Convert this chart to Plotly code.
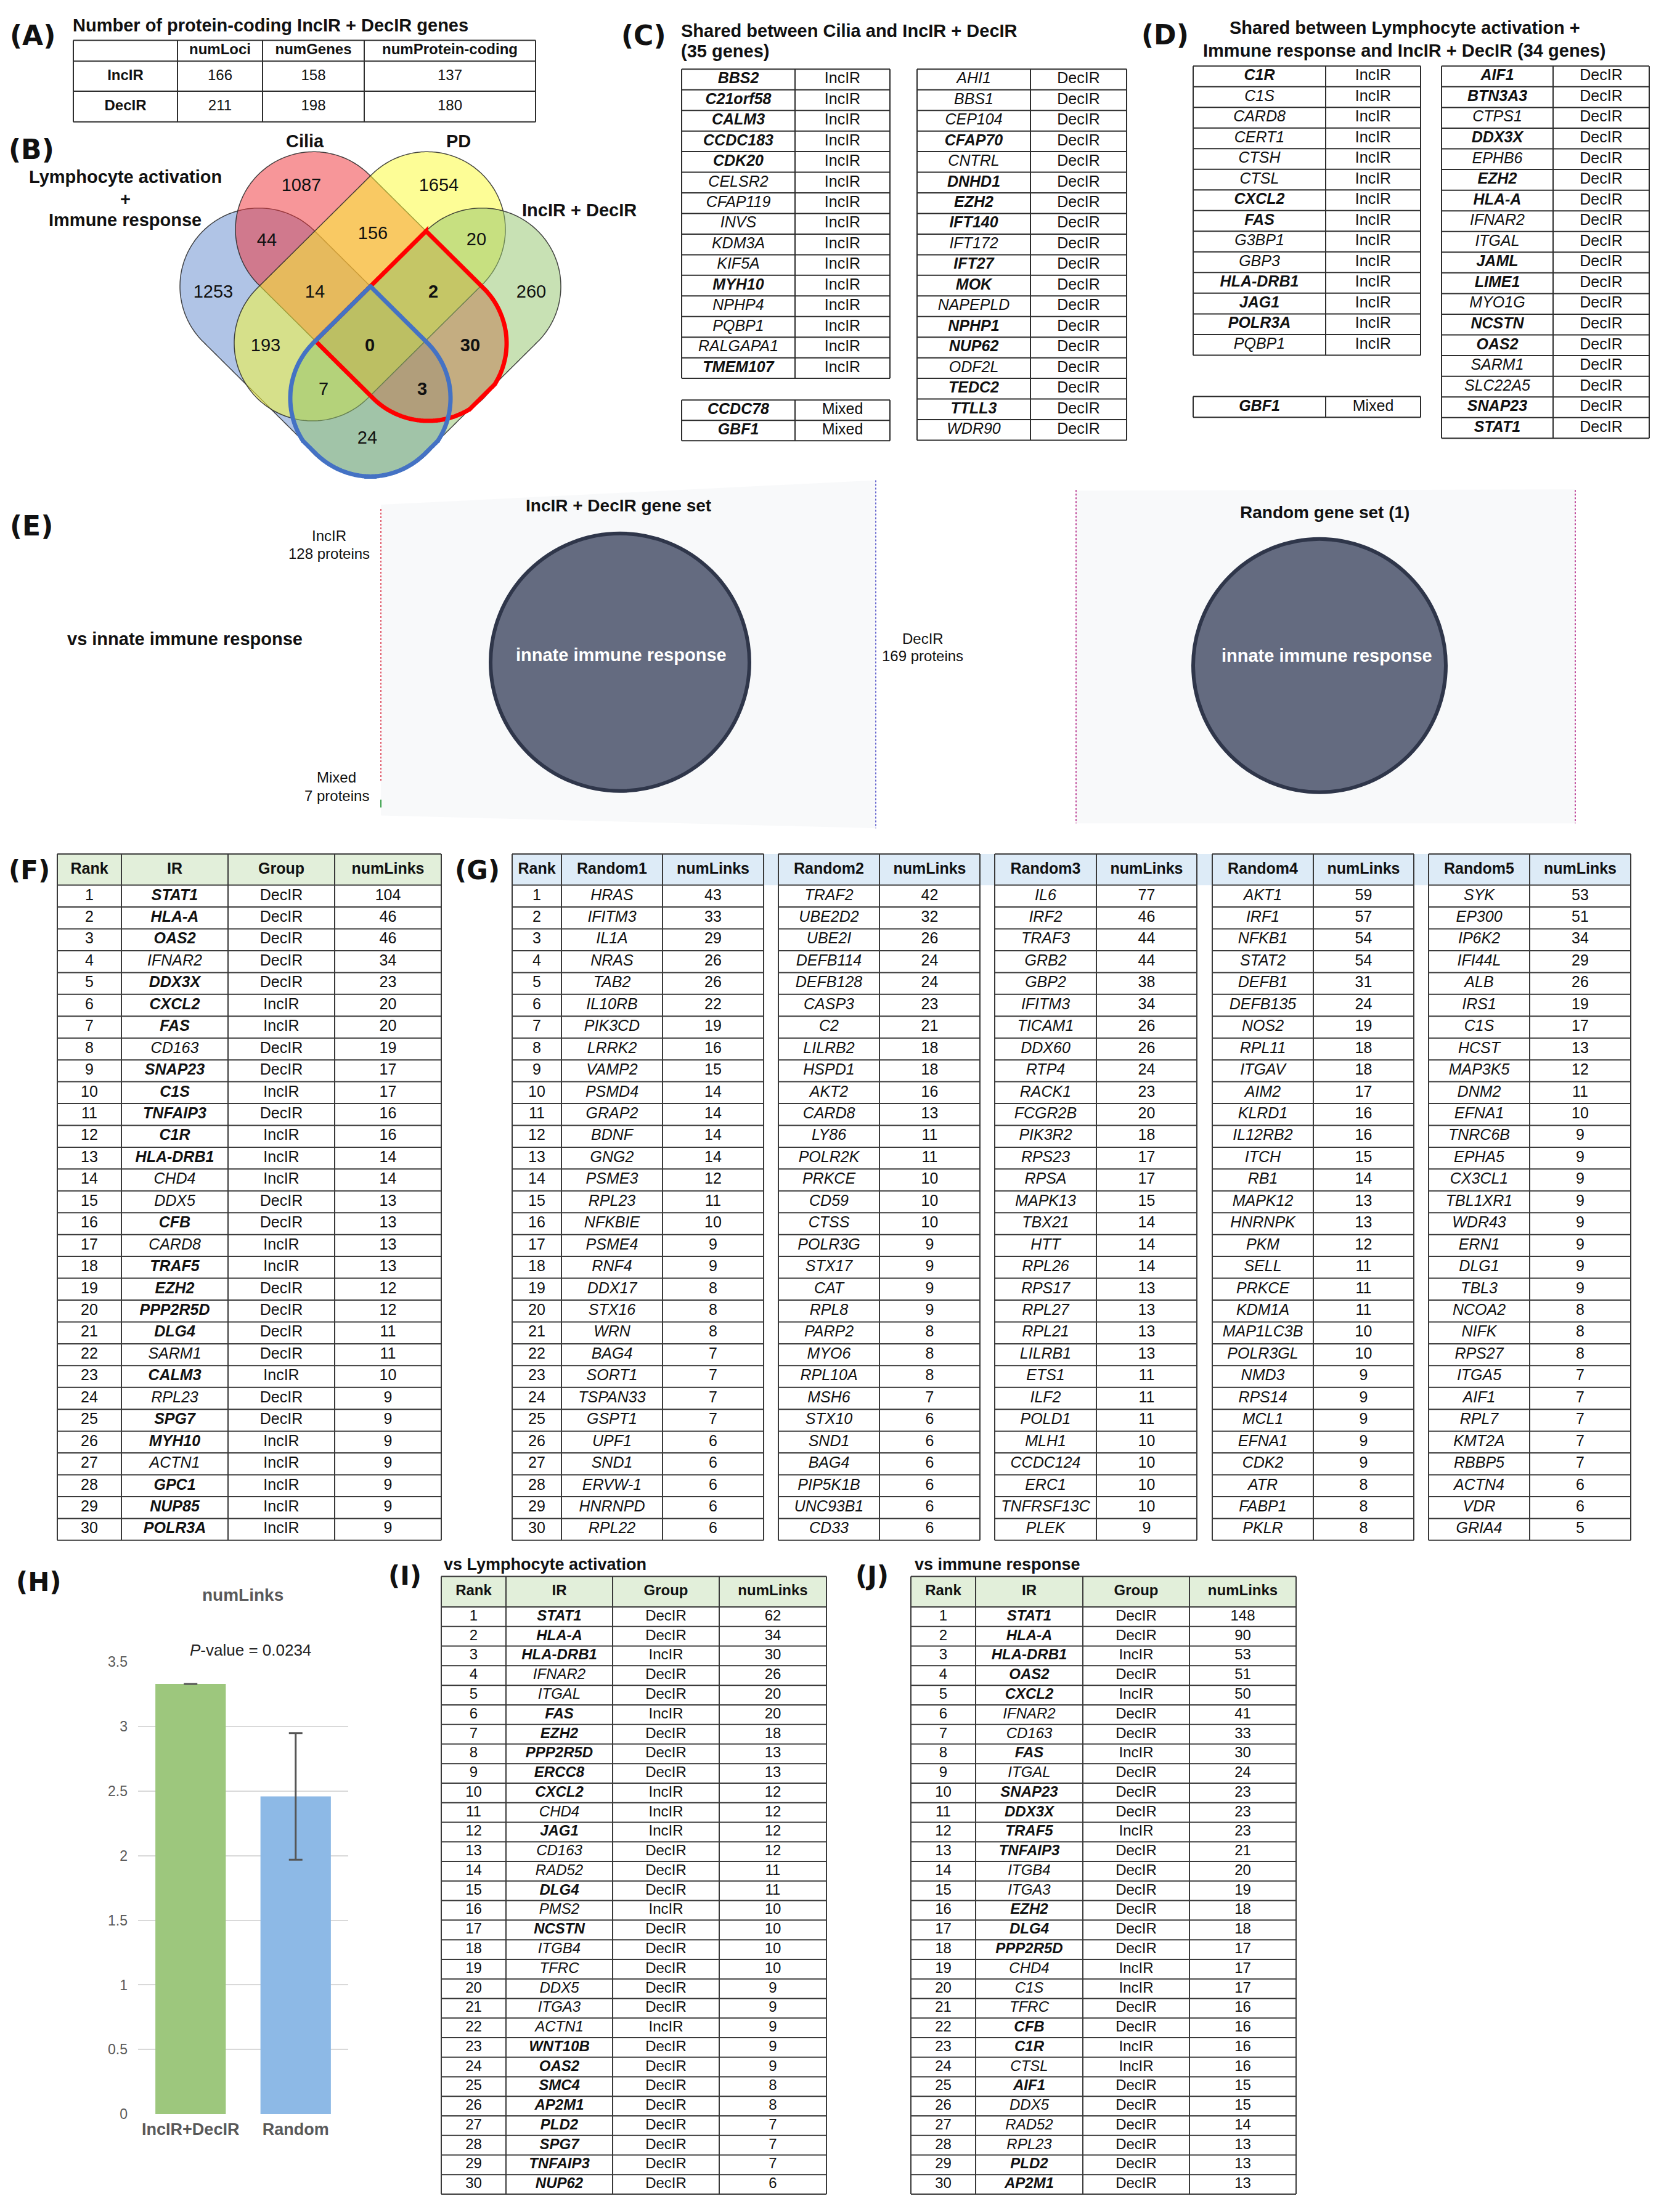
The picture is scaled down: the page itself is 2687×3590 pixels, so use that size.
import numpy as np
import plotly.graph_objects as go

W, H = 2687, 3590
FONT = "Liberation Sans, Arial, Helvetica, sans-serif"
LFONT = "DejaVu Sans, Liberation Sans, sans-serif"

# ======================= DATA =======================
# (A)
A_row_names = ["IncIR", "DecIR"]
A_col_names = ["numLoci", "numGenes", "numProtein-coding"]
A_numLoci = [166, 211]
A_numGenes = [158, 198]
A_numProteinCoding = [137, 180]

# (B) Venn
venn_set_names = ["Lymphocyte activation", "+", "Immune response", "Cilia", "PD", "IncIR + DecIR"]
venn_regions = ["C", "P", "LC", "CP", "PI", "L", "LCP", "CPI", "I", "LP", "LCPI", "CI", "LPI", "LCI", "LI"]
venn_counts = [1087, 1654, 44, 156, 20, 1253, 14, 2, 260, 193, 0, 30, 7, 3, 24]

# (C)
C_incIR = ["BBS2", "C21orf58", "CALM3", "CCDC183", "CDK20", "CELSR2", "CFAP119", "INVS", "KDM3A",
           "KIF5A", "MYH10", "NPHP4", "PQBP1", "RALGAPA1", "TMEM107"]
C_mixed = ["CCDC78", "GBF1"]
C_decIR = ["AHI1", "BBS1", "CEP104", "CFAP70", "CNTRL", "DNHD1", "EZH2", "IFT140", "IFT172", "IFT27",
           "MOK", "NAPEPLD", "NPHP1", "NUP62", "ODF2L", "TEDC2", "TTLL3", "WDR90"]
C_bold = ["BBS2", "C21orf58", "CALM3", "CCDC183", "CDK20", "MYH10", "TMEM107", "CCDC78", "GBF1",
          "CFAP70", "DNHD1", "EZH2", "IFT140", "IFT27", "MOK", "NPHP1", "NUP62", "TEDC2", "TTLL3"]

# (D)
D_incIR = ["C1R", "C1S", "CARD8", "CERT1", "CTSH", "CTSL", "CXCL2", "FAS", "G3BP1", "GBP3",
           "HLA-DRB1", "JAG1", "POLR3A", "PQBP1"]
D_mixed = ["GBF1"]
D_decIR = ["AIF1", "BTN3A3", "CTPS1", "DDX3X", "EPHB6", "EZH2", "HLA-A", "IFNAR2", "ITGAL", "JAML",
           "LIME1", "MYO1G", "NCSTN", "OAS2", "SARM1", "SLC22A5", "SNAP23", "STAT1"]
D_bold = ["C1R", "CXCL2", "FAS", "HLA-DRB1", "JAG1", "POLR3A", "GBF1", "AIF1", "BTN3A3", "DDX3X",
          "EZH2", "HLA-A", "JAML", "LIME1", "NCSTN", "OAS2", "SNAP23", "STAT1"]

# (E)
E_titles = ["IncIR + DecIR gene set", "Random gene set (1)"]
E_term = "innate immune response"
E_groups = ["IncIR", "DecIR", "Mixed"]
E_proteins = [128, 169, 7]

# (F)
F_IR = ["STAT1", "HLA-A", "OAS2", "IFNAR2", "DDX3X", "CXCL2", "FAS", "CD163", "SNAP23", "C1S",
        "TNFAIP3", "C1R", "HLA-DRB1", "CHD4", "DDX5", "CFB", "CARD8", "TRAF5", "EZH2", "PPP2R5D",
        "DLG4", "SARM1", "CALM3", "RPL23", "SPG7", "MYH10", "ACTN1", "GPC1", "NUP85", "POLR3A"]
F_group = ["DecIR", "DecIR", "DecIR", "DecIR", "DecIR", "IncIR", "IncIR", "DecIR", "DecIR", "IncIR",
           "DecIR", "IncIR", "IncIR", "IncIR", "DecIR", "DecIR", "IncIR", "IncIR", "DecIR", "DecIR",
           "DecIR", "DecIR", "IncIR", "DecIR", "DecIR", "IncIR", "IncIR", "IncIR", "IncIR", "IncIR"]
F_links = [104, 46, 46, 34, 23, 20, 20, 19, 17, 17, 16, 16, 14, 14, 13, 13, 13, 13, 12, 12,
           11, 11, 10, 9, 9, 9, 9, 9, 9, 9]
F_bold = ["STAT1", "HLA-A", "OAS2", "DDX3X", "CXCL2", "FAS", "SNAP23", "C1S", "TNFAIP3", "C1R",
          "HLA-DRB1", "CFB", "TRAF5", "EZH2", "PPP2R5D", "DLG4", "CALM3", "SPG7", "MYH10", "GPC1",
          "NUP85", "POLR3A"]

# (G)
G_random1 = ["HRAS", "IFITM3", "IL1A", "NRAS", "TAB2", "IL10RB", "PIK3CD", "LRRK2", "VAMP2", "PSMD4",
             "GRAP2", "BDNF", "GNG2", "PSME3", "RPL23", "NFKBIE", "PSME4", "RNF4", "DDX17", "STX16",
             "WRN", "BAG4", "SORT1", "TSPAN33", "GSPT1", "UPF1", "SND1", "ERVW-1", "HNRNPD", "RPL22"]
G_links1 = [43, 33, 29, 26, 26, 22, 19, 16, 15, 14, 14, 14, 14, 12, 11, 10, 9, 9, 8, 8,
            8, 7, 7, 7, 7, 6, 6, 6, 6, 6]
G_random2 = ["TRAF2", "UBE2D2", "UBE2I", "DEFB114", "DEFB128", "CASP3", "C2", "LILRB2", "HSPD1", "AKT2",
             "CARD8", "LY86", "POLR2K", "PRKCE", "CD59", "CTSS", "POLR3G", "STX17", "CAT", "RPL8",
             "PARP2", "MYO6", "RPL10A", "MSH6", "STX10", "SND1", "BAG4", "PIP5K1B", "UNC93B1", "CD33"]
G_links2 = [42, 32, 26, 24, 24, 23, 21, 18, 18, 16, 13, 11, 11, 10, 10, 10, 9, 9, 9, 9,
            8, 8, 8, 7, 6, 6, 6, 6, 6, 6]
G_random3 = ["IL6", "IRF2", "TRAF3", "GRB2", "GBP2", "IFITM3", "TICAM1", "DDX60", "RTP4", "RACK1",
             "FCGR2B", "PIK3R2", "RPS23", "RPSA", "MAPK13", "TBX21", "HTT", "RPL26", "RPS17", "RPL27",
             "RPL21", "LILRB1", "ETS1", "ILF2", "POLD1", "MLH1", "CCDC124", "ERC1", "TNFRSF13C", "PLEK"]
G_links3 = [77, 46, 44, 44, 38, 34, 26, 26, 24, 23, 20, 18, 17, 17, 15, 14, 14, 14, 13, 13,
            13, 13, 11, 11, 11, 10, 10, 10, 10, 9]
G_random4 = ["AKT1", "IRF1", "NFKB1", "STAT2", "DEFB1", "DEFB135", "NOS2", "RPL11", "ITGAV", "AIM2",
             "KLRD1", "IL12RB2", "ITCH", "RB1", "MAPK12", "HNRNPK", "PKM", "SELL", "PRKCE", "KDM1A",
             "MAP1LC3B", "POLR3GL", "NMD3", "RPS14", "MCL1", "EFNA1", "CDK2", "ATR", "FABP1", "PKLR"]
G_links4 = [59, 57, 54, 54, 31, 24, 19, 18, 18, 17, 16, 16, 15, 14, 13, 13, 12, 11, 11, 11,
            10, 10, 9, 9, 9, 9, 9, 8, 8, 8]
G_random5 = ["SYK", "EP300", "IP6K2", "IFI44L", "ALB", "IRS1", "C1S", "HCST", "MAP3K5", "DNM2",
             "EFNA1", "TNRC6B", "EPHA5", "CX3CL1", "TBL1XR1", "WDR43", "ERN1", "DLG1", "TBL3", "NCOA2",
             "NIFK", "RPS27", "ITGA5", "AIF1", "RPL7", "KMT2A", "RBBP5", "ACTN4", "VDR", "GRIA4"]
G_links5 = [53, 51, 34, 29, 26, 19, 17, 13, 12, 11, 10, 9, 9, 9, 9, 9, 9, 9, 9, 8,
            8, 8, 7, 7, 7, 7, 7, 6, 6, 5]

# (H)
H_categories = ["IncIR+DecIR", "Random"]
H_numLinks = [3.33, 2.46]
H_error = [0.0, 0.49]
H_pvalue = "0.0234"

# (I)
I_IR = ["STAT1", "HLA-A", "HLA-DRB1", "IFNAR2", "ITGAL", "FAS", "EZH2", "PPP2R5D", "ERCC8", "CXCL2",
        "CHD4", "JAG1", "CD163", "RAD52", "DLG4", "PMS2", "NCSTN", "ITGB4", "TFRC", "DDX5",
        "ITGA3", "ACTN1", "WNT10B", "OAS2", "SMC4", "AP2M1", "PLD2", "SPG7", "TNFAIP3", "NUP62"]
I_group = ["DecIR", "DecIR", "IncIR", "DecIR", "DecIR", "IncIR", "DecIR", "DecIR", "DecIR", "IncIR",
           "IncIR", "IncIR", "DecIR", "DecIR", "DecIR", "IncIR", "DecIR", "DecIR", "DecIR", "DecIR",
           "DecIR", "IncIR", "DecIR", "DecIR", "DecIR", "DecIR", "DecIR", "DecIR", "DecIR", "DecIR"]
I_links = [62, 34, 30, 26, 20, 20, 18, 13, 13, 12, 12, 12, 12, 11, 11, 10, 10, 10, 10, 9,
           9, 9, 9, 9, 8, 8, 7, 7, 7, 6]
I_bold = ["STAT1", "HLA-A", "HLA-DRB1", "FAS", "EZH2", "PPP2R5D", "ERCC8", "CXCL2", "JAG1", "DLG4",
          "NCSTN", "WNT10B", "OAS2", "SMC4", "AP2M1", "PLD2", "SPG7", "TNFAIP3", "NUP62"]

# (J)
J_IR = ["STAT1", "HLA-A", "HLA-DRB1", "OAS2", "CXCL2", "IFNAR2", "CD163", "FAS", "ITGAL", "SNAP23",
        "DDX3X", "TRAF5", "TNFAIP3", "ITGB4", "ITGA3", "EZH2", "DLG4", "PPP2R5D", "CHD4", "C1S",
        "TFRC", "CFB", "C1R", "CTSL", "AIF1", "DDX5", "RAD52", "RPL23", "PLD2", "AP2M1"]
J_group = ["DecIR", "DecIR", "IncIR", "DecIR", "IncIR", "DecIR", "DecIR", "IncIR", "DecIR", "DecIR",
           "DecIR", "IncIR", "DecIR", "DecIR", "DecIR", "DecIR", "DecIR", "DecIR", "IncIR", "IncIR",
           "DecIR", "DecIR", "IncIR", "IncIR", "DecIR", "DecIR", "DecIR", "DecIR", "DecIR", "DecIR"]
J_links = [148, 90, 53, 51, 50, 41, 33, 30, 24, 23, 23, 23, 21, 20, 19, 18, 18, 17, 17, 17,
           16, 16, 16, 16, 15, 15, 14, 13, 13, 13]
J_bold = ["STAT1", "HLA-A", "HLA-DRB1", "OAS2", "CXCL2", "FAS", "SNAP23", "DDX3X", "TRAF5", "TNFAIP3",
          "EZH2", "DLG4", "PPP2R5D", "CFB", "C1R", "AIF1", "PLD2", "AP2M1"]

# ======================= LAYOUT HELPERS =======================
fig = go.Figure()
shapes = []
annotations = []


def T(x, y, text, size, color="#111111", family=FONT, xanchor="center", yanchor="middle"):
    annotations.append(dict(x=x, y=y, xref="x", yref="y", text=text, showarrow=False,
                            font=dict(family=family, size=size, color=color),
                            xanchor=xanchor, yanchor=yanchor,
                            align="center" if xanchor == "center" else xanchor))


def gene(g, bold_list):
    return f"<b><i>{g}</i></b>" if g in bold_list else f"<i>{g}</i>"


def bold(t):
    return f"<b>{t}</b>"


def draw_table(xs, y_top, heights, cells, size, header_fill=None, n_header=0,
               line_color="#2e2e2e", line_w=2):
    ys = [y_top]
    for h in heights:
        ys.append(ys[-1] + h)
    if header_fill:
        for r in range(n_header):
            shapes.append(dict(type="rect", xref="x", yref="y", x0=xs[0], x1=xs[-1],
                               y0=ys[r], y1=ys[r + 1], fillcolor=header_fill,
                               line=dict(width=0), layer="below"))
    lx, ly = [], []
    for y in ys:
        lx += [xs[0], xs[-1], None]
        ly += [y, y, None]
    for x in xs:
        lx += [x, x, None]
        ly += [ys[0], ys[-1], None]
    fig.add_trace(go.Scatter(x=lx, y=ly, mode="lines", line=dict(color=line_color, width=line_w),
                             hoverinfo="skip", showlegend=False, xaxis="x", yaxis="y"))
    tx, ty, tt = [], [], []
    for r, row in enumerate(cells):
        for c, txt in enumerate(row):
            if txt is None:
                continue
            tx.append((xs[c] + xs[c + 1]) / 2)
            ty.append((ys[r] + ys[r + 1]) / 2)
            tt.append(txt)
    fig.add_trace(go.Scatter(x=tx, y=ty, text=tt, mode="text", textposition="middle center",
                             textfont=dict(family=FONT, size=size, color="#111111"),
                             hoverinfo="skip", showlegend=False, cliponaxis=False,
                             xaxis="x", yaxis="y"))


# ======================= PANEL LABELS =======================
for lab, x, y, fam, sz in [("(A)", 14, 45, LFONT, 44), ("(B)", 12, 231, LFONT, 44),
                           ("(C)", 1006, 45, LFONT, 44), ("(D)", 1850, 44, LFONT, 44),
                           ("(E)", 14, 847, LFONT, 44), ("(F)", 12, 1410, LFONT, 42),
                           ("(G)", 736, 1410, LFONT, 42), ("(H)", 24, 2573, LFONT, 42),
                           ("(I)", 628, 2563, LFONT, 42), ("(J)", 1386, 2563, LFONT, 42)]:
    T(x, y, bold(lab), sz, family=fam, xanchor="left")

# ======================= (A) =======================
T(116, 28, bold("Number of protein-coding IncIR + DecIR genes"), 29, xanchor="left")
A_cells = [[None] + [bold(c) for c in A_col_names]]
for i, r in enumerate(A_row_names):
    A_cells.append([bold(r), str(A_numLoci[i]), str(A_numGenes[i]), str(A_numProteinCoding[i])])
draw_table([119, 288, 426, 591, 869], 53, [34, 49, 50], A_cells, 24)

# ======================= (B) Venn =======================
VX0 = 601
caps = {
    "L": ((VX0 - 181, 455), (VX0 + 2, 638), 128, "rgba(97,137,205,0.5)"),
    "C": ((VX0 - 92, 362), (VX0 + 94, 548), 127, "rgba(239,45,52,0.5)"),
    "P": ((VX0 + 92, 362), (VX0 - 94, 548), 127, "rgba(252,252,45,0.5)"),
    "I": ((VX0 + 181, 455), (VX0 - 2, 638), 128, "rgba(145,195,105,0.5)"),
}


def capsule_pts(p1, p2, r, n=120):
    p1 = np.array(p1, float)
    p2 = np.array(p2, float)
    d = p2 - p1
    ang = np.arctan2(d[1], d[0])
    t2 = np.linspace(ang - np.pi / 2, ang + np.pi / 2, n)
    t1 = np.linspace(ang + np.pi / 2, ang + 3 * np.pi / 2, n)
    a2 = p2 + r * np.c_[np.cos(t2), np.sin(t2)]
    a1 = p1 + r * np.c_[np.cos(t1), np.sin(t1)]
    side1 = np.linspace(a2[-1], a1[0], n)
    side2 = np.linspace(a1[-1], a2[0], n)
    return np.vstack([a2, side1, a1, side2])


def seg_dist(pts, p1, p2):
    p1 = np.array(p1, float)
    p2 = np.array(p2, float)
    d = p2 - p1
    t = np.clip(((pts - p1) @ d) / (d @ d), 0, 1)
    proj = p1 + t[:, None] * d
    return np.linalg.norm(pts - proj, axis=1)


def path_of(pts):
    return "M " + " L ".join(f"{x:.1f},{y:.1f}" for x, y in pts) + " Z"


def intersection(ka, kb):
    a, b = caps[ka], caps[kb]
    pa = capsule_pts(a[0], a[1], a[2], 300)
    pb = capsule_pts(b[0], b[1], b[2], 300)
    ina = pa[seg_dist(pa, b[0], b[1]) <= b[2] + 0.3]
    inb = pb[seg_dist(pb, a[0], a[1]) <= a[2] + 0.3]
    pts = np.vstack([ina, inb])
    c = pts.mean(axis=0)
    return pts[np.argsort(np.arctan2(pts[:, 1] - c[1], pts[:, 0] - c[0]))]


for k in ["L", "C", "P", "I"]:
    p1, p2, r, col = caps[k]
    shapes.append(dict(type="path", xref="x", yref="y", path=path_of(capsule_pts(p1, p2, r)),
                       fillcolor=col, line=dict(color="rgba(40,40,40,0.85)", width=1.5), layer="below"))
shapes.append(dict(type="path", xref="x", yref="y", path=path_of(intersection("C", "I")),
                   fillcolor="rgba(0,0,0,0)", line=dict(color="#ff0000", width=7), layer="below"))
shapes.append(dict(type="path", xref="x", yref="y", path=path_of(intersection("L", "I")),
                   fillcolor="rgba(0,0,0,0)", line=dict(color="#4472c4", width=7), layer="below"))

venn_count_xy = [(489, 292), (712, 292), (433, 382), (605, 370), (773, 380), (346, 466), (511, 466),
                 (703, 466), (862, 466), (431, 554), (600, 554), (763, 554), (525, 625), (685, 625),
                 (596, 705)]
vt = [bold(str(v)) if ("C" in m and "I" in m) else str(v) for v, m in zip(venn_counts, venn_regions)]
fig.add_trace(go.Scatter(x=[p[0] for p in venn_count_xy], y=[p[1] for p in venn_count_xy], text=vt,
                         mode="text", textposition="middle center",
                         textfont=dict(family=FONT, size=29, color="#111111"),
                         hoverinfo="skip", showlegend=False, cliponaxis=False, xaxis="x", yaxis="y"))
T(203, 276, bold(venn_set_names[0]), 29)
T(203, 312, bold(venn_set_names[1]), 29)
T(203, 347, bold(venn_set_names[2]), 29)
T(495, 218, bold(venn_set_names[3]), 29)
T(744, 218, bold(venn_set_names[4]), 29)
T(940, 330, bold(venn_set_names[5]), 29)

# ======================= (C) =======================
T(1103, 37, bold("Shared between Cilia and IncIR + DecIR"), 29, xanchor="left")
T(1103, 71, bold("(35 genes)"), 29, xanchor="left")
draw_table([1106, 1290, 1444], 100, [33.7] * len(C_incIR), [[gene(g, C_bold), "IncIR"] for g in C_incIR], 25)
draw_table([1106, 1290, 1444], 641, [33.2] * len(C_mixed), [[gene(g, C_bold), "Mixed"] for g in C_mixed], 25)
draw_table([1488, 1672, 1828], 100, [33.7] * len(C_decIR), [[gene(g, C_bold), "DecIR"] for g in C_decIR], 25)

# ======================= (D) =======================
T(2279, 32, bold("Shared between Lymphocyte activation +"), 29)
T(2279, 69, bold("Immune response and IncIR + DecIR (34 genes)"), 29)
draw_table([1936, 2151, 2305], 95, [33.75] * len(D_incIR), [[gene(g, D_bold), "IncIR"] for g in D_incIR], 25)
draw_table([1936, 2151, 2305], 635, [34] * len(D_mixed), [[gene(g, D_bold), "Mixed"] for g in D_mixed], 25)
draw_table([2339, 2520, 2676], 95, [33.8] * len(D_decIR), [[gene(g, D_bold), "DecIR"] for g in D_decIR], 25)

# ======================= (E) =======================
T(300, 1031, bold("vs " + E_term), 29)
# left network
shapes.append(dict(type="path", xref="x", yref="y",
                   path="M 618,812 L 1421,772 L 1421,1341 L 618,1320 Z",
                   fillcolor="rgba(70,80,110,0.035)", line=dict(width=0), layer="below"))
shapes.append(dict(type="line", xref="x", yref="y", x0=618, x1=618, y0=819, y1=1264,
                   line=dict(color="#e05a6a", width=2, dash="dot"), layer="below"))
shapes.append(dict(type="line", xref="x", yref="y", x0=618, x1=618, y0=1294, y1=1307,
                   line=dict(color="#3aa04a", width=2), layer="below"))
shapes.append(dict(type="line", xref="x", yref="y", x0=1421, x1=1421, y0=772, y1=1341,
                   line=dict(color="#6a6ad0", width=2, dash="dot"), layer="below"))
shapes.append(dict(type="circle", xref="x", yref="y", x0=796, x1=1216, y0=859, y1=1280,
                   fillcolor="#646b80", line=dict(color="#2f364a", width=6), layer="below"))
T(1003, 813, bold(E_titles[0]), 28)
T(1008, 1058, bold(E_term), 29, color="white")
T(534, 863, E_groups[0], 24)
T(534, 892, f"{E_proteins[0]} proteins", 24)
T(1497, 1031, E_groups[1], 24)
T(1497, 1059, f"{E_proteins[1]} proteins", 24)
T(546, 1258, E_groups[2], 24)
T(546, 1288, f"{E_proteins[2]} proteins", 24)
# right network
shapes.append(dict(type="path", xref="x", yref="y",
                   path="M 1746,789 L 2556,787 L 2556,1333 L 1746,1333 Z",
                   fillcolor="rgba(70,80,110,0.035)", line=dict(width=0), layer="below"))
for xx in (1746, 2556):
    shapes.append(dict(type="line", xref="x", yref="y", x0=xx, x1=xx, y0=788, y1=1333,
                       line=dict(color="#c04c9c", width=2, dash="dot"), layer="below"))
shapes.append(dict(type="circle", xref="x", yref="y", x0=1936, x1=2346, y0=868, y1=1282,
                   fillcolor="#646b80", line=dict(color="#2f364a", width=6), layer="below"))
T(2149, 824, bold(E_titles[1]), 28)
T(2153, 1059, bold(E_term), 29, color="white")

# ======================= (F) =======================
F_cells = [[bold("Rank"), bold("IR"), bold("Group"), bold("numLinks")]]
for i in range(len(F_IR)):
    F_cells.append([str(i + 1), gene(F_IR[i], F_bold), F_group[i], str(F_links[i])])
draw_table([93, 197, 370, 543, 716], 1383, [51] + [35.7] * len(F_IR), F_cells, 25,
           header_fill="#e2efda", n_header=1, line_color="#3a3a3a")

# ======================= (G) =======================
shapes.append(dict(type="rect", xref="x", yref="y", x0=831, x1=2646, y0=1383, y1=1434,
                   fillcolor="#ddebf7", line=dict(width=0), layer="below"))
G_sets = [G_random1, G_random2, G_random3, G_random4, G_random5]
G_links = [G_links1, G_links2, G_links3, G_links4, G_links5]
G_xs = [[831, 911, 1075, 1239], [1263, 1427, 1590], [1614, 1779, 1942], [1967, 2131, 2294],
        [2318, 2482, 2646]]
for k in range(5):
    hdr = ([bold("Rank")] if k == 0 else []) + [bold(f"Random{k + 1}"), bold("numLinks")]
    cells = [hdr]
    for i in range(len(G_sets[k])):
        row = ([str(i + 1)] if k == 0 else []) + [f"<i>{G_sets[k][i]}</i>", str(G_links[k][i])]
        cells.append(row)
    draw_table(G_xs[k], 1383, [51] + [35.7] * len(G_sets[k]), cells, 25, line_color="#3a3a3a")

# ======================= (H) bar chart =======================
fig.add_trace(go.Bar(x=H_categories, y=H_numLinks, marker=dict(color=["#9dc77d", "#8db9e6"], line=dict(width=0)),
                     error_y=dict(type="data", array=H_error, color="#555555", thickness=3, width=11, visible=True),
                     xaxis="x2", yaxis="y2", showlegend=False, hoverinfo="skip"))
T(394, 2594, bold("numLinks"), 28, color="#595959")
T(406, 2684, f"<i>P</i>-value = {H_pvalue}", 26, color="#222222")

# ======================= (I) =======================
T(718, 2544, bold("vs Lymphocyte activation"), 27, xanchor="left")
I_cells = [[bold("Rank"), bold("IR"), bold("Group"), bold("numLinks")]]
for i in range(len(I_IR)):
    I_cells.append([str(i + 1), gene(I_IR[i], I_bold), I_group[i], str(I_links[i])])
draw_table([716, 821, 994, 1167, 1341], 2564, [50] + [32.0] * len(I_IR), I_cells, 24,
           header_fill="#e2efda", n_header=1, line_color="#3a3a3a")

# ======================= (J) =======================
T(1482, 2544, bold("vs immune response"), 27, xanchor="left")
J_cells = [[bold("Rank"), bold("IR"), bold("Group"), bold("numLinks")]]
for i in range(len(J_IR)):
    J_cells.append([str(i + 1), gene(J_IR[i], J_bold), J_group[i], str(J_links[i])])
draw_table([1478, 1583, 1757, 1930, 2103], 2564, [50] + [32.0] * len(J_IR), J_cells, 24,
           header_fill="#e2efda", n_header=1, line_color="#3a3a3a")

# ======================= LAYOUT =======================
fig.update_layout(
    width=W, height=H, margin=dict(l=0, r=0, t=0, b=0),
    paper_bgcolor="white", plot_bgcolor="rgba(0,0,0,0)",
    showlegend=False, bargap=0.33,
    font=dict(family=FONT, color="#111111"),
    xaxis=dict(domain=[0, 1], range=[0, W], visible=False, fixedrange=True),
    yaxis=dict(domain=[0, 1], range=[H, 0], visible=False, fixedrange=True),
    xaxis2=dict(domain=[224 / W, 565 / W], anchor="y2", showgrid=False, zeroline=False, showline=False,
                ticks="", tickfont=dict(family=FONT, size=27, color="#595959", weight="bold"),
                ticklabelstandoff=6),
    yaxis2=dict(domain=[1 - 3443 / H, 1 - 2704 / H], anchor="x2", range=[0, 3.5], dtick=0.5,
                showgrid=True, gridcolor="#d9d9d9", gridwidth=2, zeroline=False, showline=False,
                ticks="", tickfont=dict(family=FONT, size=23, color="#595959"), ticklabelstandoff=16),
    shapes=shapes, annotations=annotations,
)

fig.write_html("out.html", config={"displayModeBar": False},
               post_script="document.body.style.margin='0';")
